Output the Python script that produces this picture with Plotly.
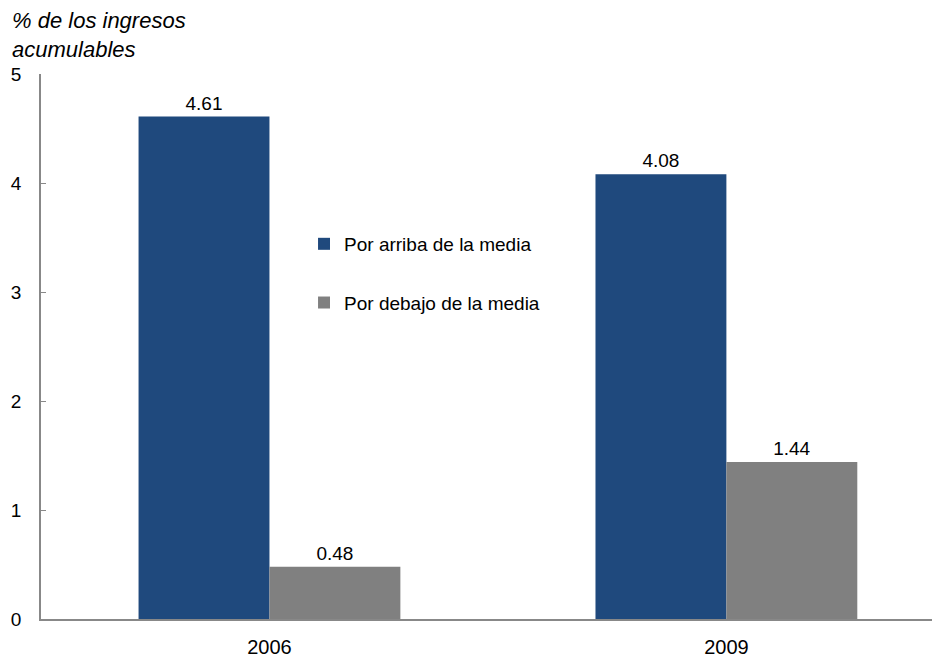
import plotly.graph_objects as go

years = ["2006", "2009"]
arriba = [4.61, 4.08]
debajo = [0.48, 1.44]
series_names = ["Por arriba de la media", "Por debajo de la media"]
colors = ["#1F497D", "#808080"]

fig = go.Figure()
for i, (name, vals) in enumerate(zip(series_names, [arriba, debajo])):
    fig.add_trace(go.Bar(
        x=years, y=vals, name=name, marker=dict(color=colors[i], line=dict(width=0)),
        text=[f"{v:.2f}" for v in vals], textposition="outside",
        textfont=dict(size=19, color="#000000", family="Liberation Sans, Arial"),
        cliponaxis=False, legendgroup=f"g{i}",
    ))

fig.update_layout(
    width=940, height=658,
    margin=dict(l=33, r=0, t=66, b=47),
    paper_bgcolor="white", plot_bgcolor="white",
    barmode="group", bargap=0.427, bargroupgap=0,
    font=dict(family="Liberation Sans, Arial", size=19, color="#000000"),
    showlegend=True,
    legend=dict(x=0.29, y=0.723, xanchor="left", yanchor="top",
                font=dict(size=19), traceorder="grouped", tracegroupgap=31,
                itemwidth=30, bgcolor="rgba(0,0,0,0)"),
    xaxis=dict(type="category", range=[-0.5, 1.485], showline=True, linecolor="#888888",
               linewidth=1.5, ticks="", showgrid=False, tickfont=dict(size=20),
               ticklabelstandoff=9, automargin=False),
    yaxis=dict(range=[0, 5], dtick=1, showline=True, linecolor="#888888", linewidth=1.5,
               ticks="inside", ticklen=5, tickcolor="#888888", showgrid=False, zeroline=False,
               tickfont=dict(size=19), ticklabelstandoff=14, automargin=False),
    annotations=[dict(text="<i>% de los ingresos<br>acumulables</i>", xref="paper", yref="paper",
                      x=0, y=1, xshift=-31, yshift=10, xanchor="left", yanchor="bottom", showarrow=False,
                      align="left", font=dict(size=22))],
)
fig.write_html("out.html")
